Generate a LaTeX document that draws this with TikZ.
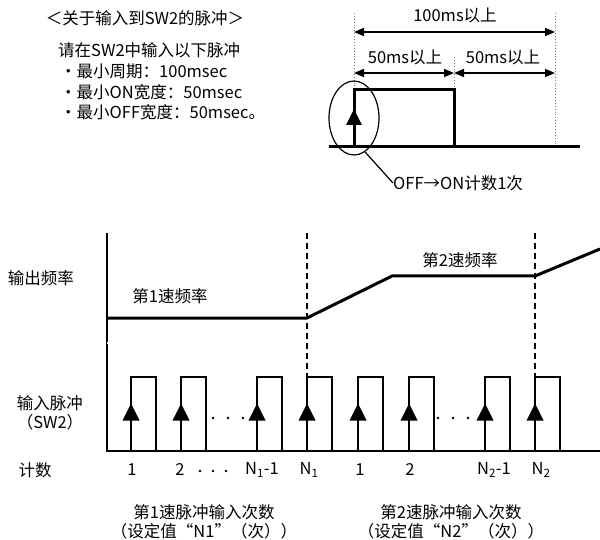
\documentclass[tikz,border=0pt]{standalone}
\usepackage{fontspec}
\setmainfont{Noto Sans CJK SC}
\usetikzlibrary{arrows.meta, shapes.geometric, positioning}

\begin{document}
\begin{tikzpicture}[x=1pt, y=-1pt,
    lbl/.style={font=\fontsize{16.5}{19.5}\selectfont, inner sep=0pt},
    wave/.style={line width=2pt, line join=miter},
    thickwave/.style={line width=3pt, line join=round},
    guide/.style={gray, dotted, line width=0.9pt},
    dim/.style={line width=1.5pt, {Triangle[length=10pt,width=8pt]}-{Triangle[length=10pt,width=8pt]}},
    boundary/.style={line width=1.4pt, dash pattern=on 6pt off 4pt},
    upmark/.pic={\fill (-8.5,8.5) -- (8.5,8.5) -- (0,-8.5) -- cycle;},
]
\useasboundingbox (0,0) rectangle (600,540);

% Input requirements
\node[lbl] (title) at (145,18) {＜关于输入到SW2的脉冲＞};
\node[lbl, anchor=west] (req) at (58,50) {请在SW2中输入以下脉冲};
\node[lbl, anchor=west] (period) at (60,71) {・最小周期：100msec};
\node[lbl, anchor=west] (onwidth) at (60,92) {・最小ON宽度：50msec};
\node[lbl, anchor=west] (offwidth) at (60,112) {・最小OFF宽度：50msec。};

% Single pulse with timing
\draw[guide] (354,13) -- (354,90);
\draw[guide] (454,57) -- (454,90);
\draw[guide] (555,13) -- (555,147);
\draw[thickwave] (329,147) -- (580,147);
\draw[thickwave, line join=miter] (354,147) |- (454,90) -- (454,147);
\pic[scale=0.92] at (354,117) {upmark};
\coordinate (p0) at (354,32);
\coordinate (p2) at (555,32);
\coordinate (h0) at (354,73);
\coordinate (h1) at (454,73);
\coordinate (h2) at (555,73);
\draw[dim] (p0) -- (p2);
\draw[dim] (h0) -- (h1);
\draw[dim] (h1) -- (h2);
\node[lbl] (t100) at (455,15) {100ms以上};
\node[lbl] (t50on) at (405,57) {50ms以上};
\node[lbl] (t50off) at (503,57) {50ms以上};
\node[draw, ellipse, line width=1.2pt, minimum width=50pt, minimum height=74pt, inner sep=0pt] (edge) at (354,118) {};
\node[lbl, anchor=west] (cnt) at (393,183) {OFF→ON计数1次};
\draw[line width=1.2pt] (edge.-72) -- (cnt.west);

% Row labels
\node[lbl] (outfreq) at (41,278) {输出频率};
\node[lbl, align=center] (inpulse) at (50,413) {输入脉冲\\（SW2）};
\node[lbl] (count) at (35,470) {计数};

% Output frequency
\draw[line width=1.5pt] (107,233) -- (107,451) -- (600,451);
\draw[line width=0.7pt, double, double distance=1.2pt] (107,343) -- (600,343);
\draw[thickwave] (107,318) -- (307,318) -- (392,276) -- (535,276) -- (600,249);
\node[lbl] (spd1) at (170,296) {第1速频率};
\node[lbl] (spd2) at (460,260) {第2速频率};
\draw[boundary] (307,233) -- (307,377);
\draw[boundary] (535,233) -- (535,377);

% Input pulses
\foreach \x in {131,181,257,307,358,409,485,535} {
    \draw[wave] (\x,451) |- (\x+25,377) -- (\x+25,451);
    \pic at (\x,412) {upmark};
}
\foreach \x in {213,228,243,438,453,468}
    \fill (\x,418) circle (1.3pt);

% Count
\foreach \x/\n in {132/1, 180/2, 262/{N\textsubscript{1}-1}, 309/N\textsubscript{1}, 360/1, 410/2, 494/{N\textsubscript{2}-1}, 541/N\textsubscript{2}}
    \node[lbl] at (\x,470) {\n};
\foreach \x in {200,213,226}
    \fill (\x,471) circle (1.3pt);

% Set values
\node[lbl, align=center] (set1) at (204,522) {第1速脉冲输入次数\\（设定值“N1”（次））};
\node[lbl, align=center] (set2) at (451,522) {第2速脉冲输入次数\\（设定值“N2”（次））};
\end{tikzpicture}
\end{document}
